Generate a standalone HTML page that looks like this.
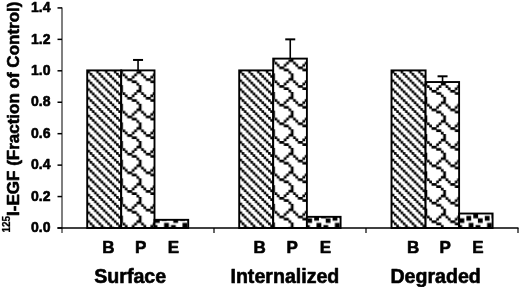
<!DOCTYPE html>
<html><head><meta charset="utf-8"><style>
html,body{margin:0;padding:0;background:#fff;}
svg{display:block;filter:grayscale(1) blur(0.4px);}
text{font-family:"Liberation Sans",sans-serif;font-weight:bold;fill:#000;stroke:#000;stroke-width:0.6px;stroke-linejoin:round;}
.t{font-size:14px;}
.l{font-size:17px;}
.g{font-size:19.6px;}
.y{font-size:17px;}
</style></head><body>
<svg width="520" height="287" viewBox="0 0 520 287">
<defs><pattern id="p00" patternUnits="userSpaceOnUse" x="87.70" y="70.90" width="8.80" height="8.80"><rect width="8.80" height="8.80" fill="#fff"/><path d="M-0.20,-0.20h2.60v2.60h-2.60zM-0.20,8.60h2.60v2.60h-2.60zM8.60,-0.20h2.60v2.60h-2.60zM8.60,8.60h2.60v2.60h-2.60zM2.00,2.00h2.60v2.60h-2.60zM4.20,4.20h2.60v2.60h-2.60zM-2.40,-2.40h2.60v2.60h-2.60zM-2.40,6.40h2.60v2.60h-2.60zM6.40,-2.40h2.60v2.60h-2.60zM6.40,6.40h2.60v2.60h-2.60z"/></pattern><pattern id="p01" patternUnits="userSpaceOnUse" x="122.70" y="71.40" width="18.64" height="18.64"><rect width="18.64" height="18.64" fill="#fff"/><path d="M13.78,-0.20h2.73v2.73h-2.73zM13.78,18.44h2.73v2.73h-2.73zM-2.53,-0.20h2.73v2.73h-2.73zM-2.53,18.44h2.73v2.73h-2.73zM16.11,-0.20h2.73v2.73h-2.73zM16.11,18.44h2.73v2.73h-2.73zM-0.20,2.13h2.73v2.73h-2.73zM18.44,2.13h2.73v2.73h-2.73zM11.45,2.13h2.73v2.73h-2.73zM2.13,4.46h2.73v2.73h-2.73zM9.12,4.46h2.73v2.73h-2.73zM4.46,6.79h2.73v2.73h-2.73zM6.79,6.79h2.73v2.73h-2.73zM9.12,9.12h2.73v2.73h-2.73zM11.45,9.12h2.73v2.73h-2.73zM13.78,11.45h2.73v2.73h-2.73zM-2.53,13.78h2.73v2.73h-2.73zM16.11,13.78h2.73v2.73h-2.73zM-2.53,-2.53h2.73v2.73h-2.73zM-2.53,16.11h2.73v2.73h-2.73zM16.11,-2.53h2.73v2.73h-2.73zM16.11,16.11h2.73v2.73h-2.73z"/></pattern><pattern id="p02" patternUnits="userSpaceOnUse" x="155.00" y="213.70" width="18.40" height="18.40"><rect width="18.40" height="18.40" fill="#fff"/><path d="M-0.10,4.50h4.80v4.80h-4.80zM18.30,4.50h4.80v4.80h-4.80zM6.80,2.20h4.80v4.80h-4.80zM-4.70,-0.10h4.80v4.80h-4.80zM-4.70,18.30h4.80v4.80h-4.80zM13.70,-0.10h4.80v4.80h-4.80zM13.70,18.30h4.80v4.80h-4.80zM9.10,9.10h4.80v4.80h-4.80zM-2.40,11.40h4.80v4.80h-4.80zM16.00,11.40h4.80v4.80h-4.80z"/></pattern><pattern id="p10" patternUnits="userSpaceOnUse" x="239.70" y="70.90" width="8.80" height="8.80"><rect width="8.80" height="8.80" fill="#fff"/><path d="M-0.20,-0.20h2.60v2.60h-2.60zM-0.20,8.60h2.60v2.60h-2.60zM8.60,-0.20h2.60v2.60h-2.60zM8.60,8.60h2.60v2.60h-2.60zM2.00,2.00h2.60v2.60h-2.60zM4.20,4.20h2.60v2.60h-2.60zM-2.40,-2.40h2.60v2.60h-2.60zM-2.40,6.40h2.60v2.60h-2.60zM6.40,-2.40h2.60v2.60h-2.60zM6.40,6.40h2.60v2.60h-2.60z"/></pattern><pattern id="p11" patternUnits="userSpaceOnUse" x="274.70" y="59.61" width="18.64" height="18.64"><rect width="18.64" height="18.64" fill="#fff"/><path d="M13.78,-0.20h2.73v2.73h-2.73zM13.78,18.44h2.73v2.73h-2.73zM-2.53,-0.20h2.73v2.73h-2.73zM-2.53,18.44h2.73v2.73h-2.73zM16.11,-0.20h2.73v2.73h-2.73zM16.11,18.44h2.73v2.73h-2.73zM-0.20,2.13h2.73v2.73h-2.73zM18.44,2.13h2.73v2.73h-2.73zM11.45,2.13h2.73v2.73h-2.73zM2.13,4.46h2.73v2.73h-2.73zM9.12,4.46h2.73v2.73h-2.73zM4.46,6.79h2.73v2.73h-2.73zM6.79,6.79h2.73v2.73h-2.73zM9.12,9.12h2.73v2.73h-2.73zM11.45,9.12h2.73v2.73h-2.73zM13.78,11.45h2.73v2.73h-2.73zM-2.53,13.78h2.73v2.73h-2.73zM16.11,13.78h2.73v2.73h-2.73zM-2.53,-2.53h2.73v2.73h-2.73zM-2.53,16.11h2.73v2.73h-2.73zM16.11,-2.53h2.73v2.73h-2.73zM16.11,16.11h2.73v2.73h-2.73z"/></pattern><pattern id="p12" patternUnits="userSpaceOnUse" x="307.40" y="213.70" width="18.40" height="18.40"><rect width="18.40" height="18.40" fill="#fff"/><path d="M-0.10,4.50h4.80v4.80h-4.80zM18.30,4.50h4.80v4.80h-4.80zM6.80,2.20h4.80v4.80h-4.80zM-4.70,-0.10h4.80v4.80h-4.80zM-4.70,18.30h4.80v4.80h-4.80zM13.70,-0.10h4.80v4.80h-4.80zM13.70,18.30h4.80v4.80h-4.80zM9.10,9.10h4.80v4.80h-4.80zM-2.40,11.40h4.80v4.80h-4.80zM16.00,11.40h4.80v4.80h-4.80z"/></pattern><pattern id="p20" patternUnits="userSpaceOnUse" x="392.00" y="70.90" width="8.80" height="8.80"><rect width="8.80" height="8.80" fill="#fff"/><path d="M-0.20,-0.20h2.60v2.60h-2.60zM-0.20,8.60h2.60v2.60h-2.60zM8.60,-0.20h2.60v2.60h-2.60zM8.60,8.60h2.60v2.60h-2.60zM2.00,2.00h2.60v2.60h-2.60zM4.20,4.20h2.60v2.60h-2.60zM-2.40,-2.40h2.60v2.60h-2.60zM-2.40,6.40h2.60v2.60h-2.60zM6.40,-2.40h2.60v2.60h-2.60zM6.40,6.40h2.60v2.60h-2.60z"/></pattern><pattern id="p21" patternUnits="userSpaceOnUse" x="427.10" y="83.03" width="18.64" height="18.64"><rect width="18.64" height="18.64" fill="#fff"/><path d="M13.78,-0.20h2.73v2.73h-2.73zM13.78,18.44h2.73v2.73h-2.73zM-2.53,-0.20h2.73v2.73h-2.73zM-2.53,18.44h2.73v2.73h-2.73zM16.11,-0.20h2.73v2.73h-2.73zM16.11,18.44h2.73v2.73h-2.73zM-0.20,2.13h2.73v2.73h-2.73zM18.44,2.13h2.73v2.73h-2.73zM11.45,2.13h2.73v2.73h-2.73zM2.13,4.46h2.73v2.73h-2.73zM9.12,4.46h2.73v2.73h-2.73zM4.46,6.79h2.73v2.73h-2.73zM6.79,6.79h2.73v2.73h-2.73zM9.12,9.12h2.73v2.73h-2.73zM11.45,9.12h2.73v2.73h-2.73zM13.78,11.45h2.73v2.73h-2.73zM-2.53,13.78h2.73v2.73h-2.73zM16.11,13.78h2.73v2.73h-2.73zM-2.53,-2.53h2.73v2.73h-2.73zM-2.53,16.11h2.73v2.73h-2.73zM16.11,-2.53h2.73v2.73h-2.73zM16.11,16.11h2.73v2.73h-2.73z"/></pattern><pattern id="p22" patternUnits="userSpaceOnUse" x="459.60" y="213.70" width="18.40" height="18.40"><rect width="18.40" height="18.40" fill="#fff"/><path d="M-0.10,4.50h4.80v4.80h-4.80zM18.30,4.50h4.80v4.80h-4.80zM6.80,2.20h4.80v4.80h-4.80zM-4.70,-0.10h4.80v4.80h-4.80zM-4.70,18.30h4.80v4.80h-4.80zM13.70,-0.10h4.80v4.80h-4.80zM13.70,18.30h4.80v4.80h-4.80zM9.10,9.10h4.80v4.80h-4.80zM-2.40,11.40h4.80v4.80h-4.80zM16.00,11.40h4.80v4.80h-4.80z"/></pattern></defs>
<rect x="87.20" y="70.40" width="34.00" height="157.60" fill="url(#p00)" stroke="#000" stroke-width="1.9"/>
<rect x="121.20" y="70.40" width="33.30" height="157.60" fill="url(#p01)" stroke="#000" stroke-width="1.9"/>
<rect x="154.50" y="219.82" width="33.70" height="8.18" fill="url(#p02)" stroke="#000" stroke-width="1.9"/>
<line x1="138.05" y1="70.40" x2="138.05" y2="59.95" stroke="#000" stroke-width="1.6"/>
<line x1="133.05" y1="59.95" x2="143.05" y2="59.95" stroke="#000" stroke-width="2"/>
<rect x="239.20" y="70.40" width="34.00" height="157.60" fill="url(#p10)" stroke="#000" stroke-width="1.9"/>
<rect x="273.20" y="58.61" width="33.70" height="169.39" fill="url(#p11)" stroke="#000" stroke-width="1.9"/>
<rect x="306.90" y="216.83" width="33.70" height="11.17" fill="url(#p12)" stroke="#000" stroke-width="1.9"/>
<line x1="290.25" y1="58.61" x2="290.25" y2="39.36" stroke="#000" stroke-width="1.6"/>
<line x1="285.25" y1="39.36" x2="295.25" y2="39.36" stroke="#000" stroke-width="2"/>
<rect x="391.50" y="70.40" width="34.10" height="157.60" fill="url(#p20)" stroke="#000" stroke-width="1.9"/>
<rect x="425.60" y="82.03" width="33.50" height="145.97" fill="url(#p21)" stroke="#000" stroke-width="1.9"/>
<rect x="459.10" y="213.53" width="33.50" height="14.47" fill="url(#p22)" stroke="#000" stroke-width="1.9"/>
<line x1="442.55" y1="82.03" x2="442.55" y2="76.30" stroke="#000" stroke-width="1.6"/>
<line x1="437.55" y1="76.30" x2="447.55" y2="76.30" stroke="#000" stroke-width="2"/>
<line x1="62" y1="7.5" x2="62" y2="233" stroke="#333" stroke-width="1.25"/>
<line x1="57.5" y1="228" x2="518.5" y2="228" stroke="#000" stroke-width="1.5"/>
<line x1="57.5" y1="228.00" x2="62" y2="228.00" stroke="#000" stroke-width="1.5"/>
<text x="50.5" y="232.20" text-anchor="end" class="t">0.0</text>
<line x1="57.5" y1="196.56" x2="62" y2="196.56" stroke="#000" stroke-width="1.5"/>
<text x="50.5" y="200.76" text-anchor="end" class="t">0.2</text>
<line x1="57.5" y1="165.12" x2="62" y2="165.12" stroke="#000" stroke-width="1.5"/>
<text x="50.5" y="169.32" text-anchor="end" class="t">0.4</text>
<line x1="57.5" y1="133.68" x2="62" y2="133.68" stroke="#000" stroke-width="1.5"/>
<text x="50.5" y="137.88" text-anchor="end" class="t">0.6</text>
<line x1="57.5" y1="102.24" x2="62" y2="102.24" stroke="#000" stroke-width="1.5"/>
<text x="50.5" y="106.44" text-anchor="end" class="t">0.8</text>
<line x1="57.5" y1="70.80" x2="62" y2="70.80" stroke="#000" stroke-width="1.5"/>
<text x="50.5" y="75.00" text-anchor="end" class="t">1.0</text>
<line x1="57.5" y1="39.36" x2="62" y2="39.36" stroke="#000" stroke-width="1.5"/>
<text x="50.5" y="43.56" text-anchor="end" class="t">1.2</text>
<line x1="57.5" y1="7.92" x2="62" y2="7.92" stroke="#000" stroke-width="1.5"/>
<text x="50.5" y="12.12" text-anchor="end" class="t">1.4</text>
<line x1="214" y1="228" x2="214" y2="233" stroke="#000" stroke-width="1.2"/>
<line x1="366" y1="228" x2="366" y2="233" stroke="#000" stroke-width="1.2"/>
<line x1="518" y1="228" x2="518" y2="233" stroke="#000" stroke-width="1.2"/>
<text x="108.4" y="253.2" text-anchor="middle" class="l">B</text>
<text x="140.7" y="253.2" text-anchor="middle" class="l">P</text>
<text x="173.5" y="253.2" text-anchor="middle" class="l">E</text>
<text x="259.7" y="253.2" text-anchor="middle" class="l">B</text>
<text x="292.2" y="253.2" text-anchor="middle" class="l">P</text>
<text x="325.5" y="253.2" text-anchor="middle" class="l">E</text>
<text x="413.2" y="253.2" text-anchor="middle" class="l">B</text>
<text x="445.2" y="253.2" text-anchor="middle" class="l">P</text>
<text x="478" y="253.2" text-anchor="middle" class="l">E</text>
<text x="130.2" y="282.6" text-anchor="middle" class="g">Surface</text>
<text x="284.9" y="282.6" text-anchor="middle" class="g">Internalized</text>
<text x="435.6" y="282.6" text-anchor="middle" class="g">Degraded</text>
<text transform="translate(18.8,232.6) rotate(-90)" class="y"><tspan font-size="10" dy="-8.5" style="stroke-width:0.25px">125</tspan><tspan dy="8.5">I-EGF (Fraction of Control)</tspan></text>
</svg>
</body></html>
